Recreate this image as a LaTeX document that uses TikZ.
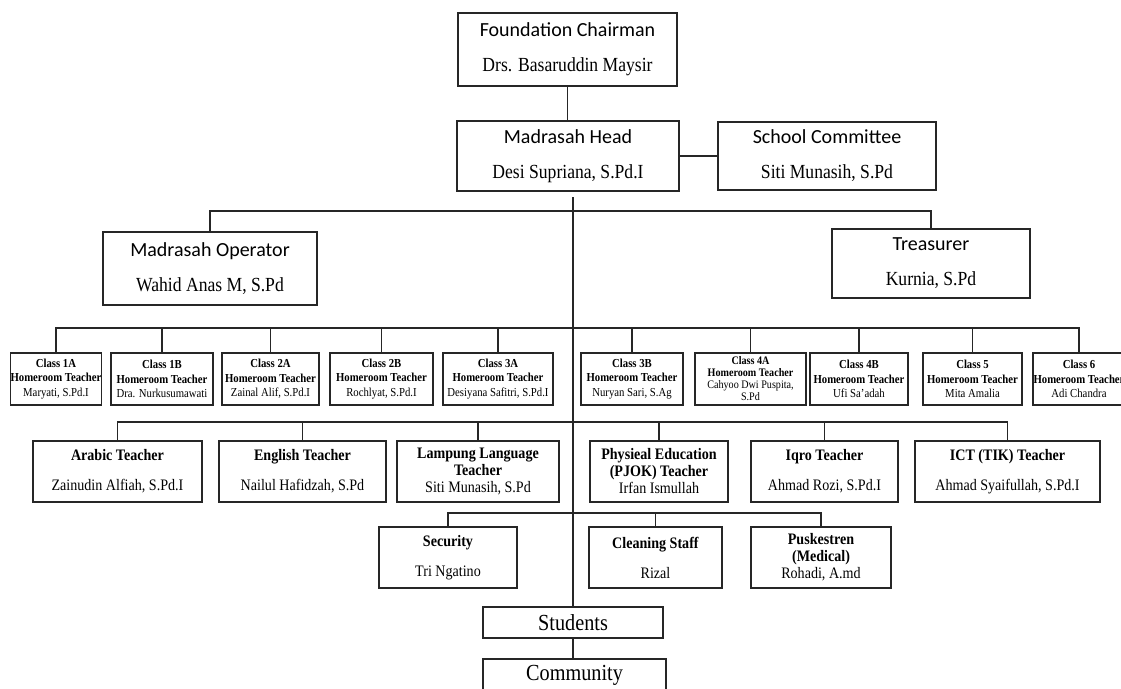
\documentclass[tikz,border=0pt]{standalone}
\usepackage{fontspec}
\setmainfont{Liberation Serif}[FakeStretch=0.88]
\newfontfamily\calfont{Carlito}
\begin{document}
\begin{tikzpicture}[x=1pt,y=-1pt]
\tikzset{
  bx/.style={draw=black!85, line width=1.6pt, inner sep=0pt, align=center, fill=white},
  topbox/.style={bx, font=\fontsize{20}{35}\selectfont},
  clsbox/.style={bx, minimum height=52pt, font=\fontsize{12.2}{14.5}\selectfont},
  tchbox/.style={bx, minimum height=61pt, font=\fontsize{16}{17}\selectfont},
  bigbox/.style={bx, font=\fontsize{23}{26}\selectfont},
  ln/.style={draw=black!85, line width=1.5pt},
}
\useasboundingbox (0,0) rectangle (1121,688);
\fill[white] (0,0) rectangle (1121,688);
\clip (0,0) rectangle (1121,688);

% top level
\node[topbox, minimum width=219pt, minimum height=73pt] (fc) at (567.5,49.5)
  {{\calfont Foundation Chairman}\\Drs. Basaruddin Maysir};
\node[topbox, minimum width=222pt, minimum height=70pt] (mh) at (568,156)
  {{\calfont Madrasah Head}\\Desi Supriana, S.Pd.I};
\node[topbox, minimum width=218pt, minimum height=68pt] (sc) at (827,156)
  {{\calfont School Committee}\\Siti Munasih, S.Pd};
\node[topbox, minimum width=214pt, minimum height=73pt] (op) at (210,268.5)
  {{\calfont Madrasah Operator}\\Wahid Anas M, S.Pd};
\node[topbox, minimum width=198pt, minimum height=69pt] (tr) at (931,263.5)
  {{\calfont Treasurer}\\Kurnia, S.Pd};

% classes
\node[clsbox, minimum width=88pt] (c1a) at (56,379) {\textbf{Class 1A}\\\textbf{Homeroom Teacher}\\Maryati, S.Pd.I};
\node[clsbox, minimum width=102pt] (c1b) at (162,379) {\textbf{Class 1B}\\\textbf{Homeroom Teacher}\\Dra. Nurkusumawati};
\node[clsbox, minimum width=97pt] (c2a) at (270.5,379) {\textbf{Class 2A}\\\textbf{Homeroom Teacher}\\Zainal Alif, S.Pd.I};
\node[clsbox, minimum width=103pt] (c2b) at (381.5,379) {\textbf{Class 2B}\\\textbf{Homeroom Teacher}\\Rochlyat, S.Pd.I};
\node[clsbox, minimum width=110pt] (c3a) at (498,379) {\textbf{Class 3A}\\\textbf{Homeroom Teacher}\\Desiyana Safitri, S.Pd.I};
\node[clsbox, minimum width=102pt] (c3b) at (632,379) {\textbf{Class 3B}\\\textbf{Homeroom Teacher}\\Nuryan Sari, S.Ag};
\node[clsbox, minimum width=111pt, font=\fontsize{11.5}{12}\selectfont] (c4a) at (750.5,379) {\textbf{Class 4A}\\\textbf{Homeroom Teacher}\\Cahyoo Dwi Puspita,\\S.Pd};
\node[clsbox, minimum width=98pt] (c4b) at (859,379) {\textbf{Class 4B}\\\textbf{Homeroom Teacher}\\Ufi Sa’adah};
\node[clsbox, minimum width=99pt] (c5) at (972.5,379) {\textbf{Class 5}\\\textbf{Homeroom Teacher}\\Mita Amalia};
\node[clsbox, minimum width=92pt] (c6) at (1079,379) {\textbf{Class 6}\\\textbf{Homeroom Teacher}\\Adi Chandra};

% teachers
\node[tchbox, minimum width=169pt] (ar) at (117.5,471.5) {\textbf{Arabic Teacher}\\[13pt]Zainudin Alfiah, S.Pd.I};
\node[tchbox, minimum width=167pt] (en) at (302.5,471.5) {\textbf{English Teacher}\\[13pt]Nailul Hafidzah, S.Pd};
\node[tchbox, minimum width=162pt] (la) at (478,471.5) {\textbf{Lampung Language}\\\textbf{Teacher}\\Siti Munasih, S.Pd};
\node[tchbox, minimum width=138pt] (pe) at (659,471.5) {\textbf{Physieal Education}\\\textbf{(PJOK) Teacher}\\Irfan Ismullah};
\node[tchbox, minimum width=147pt] (iq) at (824.5,471.5) {\textbf{Iqro Teacher}\\[13pt]Ahmad Rozi, S.Pd.I};
\node[tchbox, minimum width=185pt] (ict) at (1007.5,471.5) {\textbf{ICT (TIK) Teacher}\\[13pt]Ahmad Syaifullah, S.Pd.I};

% staff
\node[tchbox, minimum width=138pt] (se) at (448,557.5) {\textbf{Security}\\[13pt]Tri Ngatino};
\node[tchbox, minimum width=133pt] (cl) at (655.5,557.5) {\textbf{Cleaning Staff}\\[13pt]Rizal};
\node[tchbox, minimum width=140pt] (pu) at (821,557.5) {\textbf{Puskestren}\\\textbf{(Medical)}\\Rohadi, A.md};

% students / community
\node[bigbox, minimum width=180pt, minimum height=31pt] (st) at (573,622.5) {Students};
\node[bigbox, minimum width=183pt, minimum height=32pt] (cm) at (574.5,675) {Community};

% connectors
\draw[ln] (fc.south) -- (fc.south |- mh.north);
\draw[ln] (mh.east) -- (sc.west);
\coordinate (t0) at (573,197);
\draw[ln] (t0) -- (t0 |- st.north);
\coordinate (b1) at (573,211);
\draw[ln] (op.north) |- (b1) -| (tr.north);
\coordinate (b2) at (573,328);
\draw[ln] (c1a.north) |- (b2) -| (c6.north);
\foreach \n in {c1b,c2a,c2b,c3a,c3b,c4a,c4b,c5}
  \draw[ln] (\n.north) -- (\n.north |- b2);
\coordinate (b3) at (573,422);
\draw[ln] (ar.north) |- (b3) -| (ict.north);
\foreach \n in {en,la,pe,iq}
  \draw[ln] (\n.north) -- (\n.north |- b3);
\coordinate (b4) at (573,513);
\draw[ln] (se.north) |- (b4) -| (pu.north);
\draw[ln] (cl.north) -- (cl.north |- b4);
\draw[ln] (st.south) -- (st.south |- cm.north);
\end{tikzpicture}
\end{document}
